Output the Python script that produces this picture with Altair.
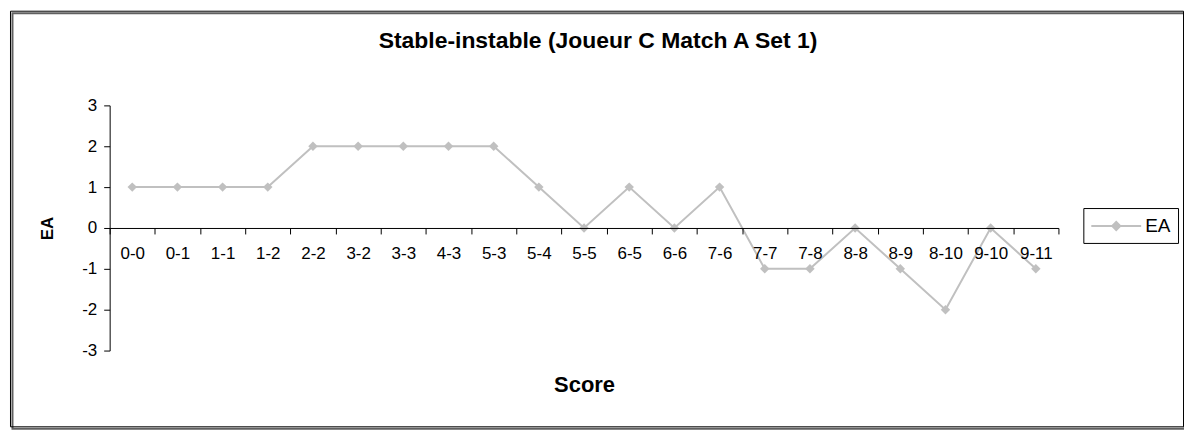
import altair as alt
import pandas as pd

scores = ["0-0", "0-1", "1-1", "1-2", "2-2", "3-2", "3-3", "4-3", "5-3", "5-4",
          "5-5", "6-5", "6-6", "7-6", "7-7", "7-8", "8-8", "8-9", "8-10", "9-10", "9-11"]
ea_values = [1, 1, 1, 1, 2, 2, 2, 2, 2, 1, 0, 1, 0, 1, -1, -1, 0, -1, -2, 0, -1]
y_ticks = [-3, -2, -1, 0, 1, 2, 3]
series_name = "EA"
title_text = "Stable-instable (Joueur C Match A Set 1)"

df = pd.DataFrame({"score": scores, "ea": ea_values, "serie": [series_name] * len(scores)})

FONT = "Liberation Sans"
W, H = 952, 246
GRAY = "#C0C0C0"

legend_path = "M-1,0L4,0M1.1,0L1.5,-0.4L1.9,0L1.5,0.4Z"

x_enc = alt.X(
    "score:N", sort=scores,
    scale=alt.Scale(type="band", paddingInner=0, paddingOuter=0),
    axis=alt.Axis(
        title="Score", titleFont=FONT, titleFontSize=22, titleFontWeight="bold",
        titleX=W / 2, titleY=157, titleBaseline="middle", titleAlign="center",
        titleColor="black",
        labelAngle=0, labelFont=FONT, labelFontSize=17, labelColor="black",
        labelPadding=12, labelOverlap=False,
        tickBand="extent", tickSize=6, tickColor="black", tickWidth=1,
        domainColor="black", domainWidth=1, offset=-H / 2, grid=False, zindex=1,
    ),
)
y_enc = alt.Y(
    "ea:Q",
    scale=alt.Scale(domain=[-3, 3], nice=False, zero=False),
    axis=alt.Axis(
        values=y_ticks, grid=False, title="EA", titleFont=FONT, titleFontSize=17,
        titleFontWeight="bold", titleColor="black", titleX=-62, titleY=H / 2,
        titleAngle=270, titleBaseline="middle", titleAlign="center",
        labelFont=FONT, labelFontSize=17, labelColor="black", labelPadding=7,
        labelExpr="'' + datum.value",
        tickSize=6, tickColor="black", domainColor="black", zindex=1,
    ),
)
color_enc = alt.Color(
    "serie:N",
    scale=alt.Scale(domain=[series_name], range=[GRAY]),
    legend=alt.Legend(
        title=None, orient="none", legendX=977, legendY=103,
        symbolType=legend_path, symbolSize=400, symbolStrokeWidth=2,
        symbolFillColor=GRAY, symbolStrokeColor=GRAY, symbolOpacity=1,
        labelFont=FONT, labelFontSize=19, labelColor="black", labelOffset=33,
        strokeColor="black", fillColor="white", padding=7,
    ),
)

line = alt.Chart(df).mark_line(strokeWidth=2).encode(x=x_enc, y=y_enc, color=color_enc)
points = alt.Chart(df).mark_point(shape="diamond", filled=True, size=90, opacity=1).encode(
    x=x_enc, y=y_enc, color=color_enc)

frame_data = alt.Data(values=[{"k": 1}])
shadow = alt.Chart(frame_data).mark_rect(filled=False, stroke="#606060", strokeWidth=2).encode(
    x=alt.value(-97.5), x2=alt.value(1078.5), y=alt.value(-92.5), y2=alt.value(324.5))
frame = alt.Chart(frame_data).mark_rect(filled=False, stroke="black", strokeWidth=1).encode(
    x=alt.value(-99.5), x2=alt.value(1077.5), y=alt.value(-94.5), y2=alt.value(322.5))

chart = alt.layer(shadow, frame, line, points).properties(
    width=W, height=H,
    title=alt.TitleParams(title_text, font=FONT, fontSize=23, fontWeight="bold",
                          color="black", anchor="middle", dx=14, offset=-60,
                          baseline="alphabetic", frame="group"),
    autosize=alt.AutoSizeParams(type="none"),
    padding={"left": 102, "top": 97, "right": 126, "bottom": 82},
    background="white",
).configure_view(stroke="transparent")

chart.save("out.html", embed_options={"renderer": "svg", "actions": False})
